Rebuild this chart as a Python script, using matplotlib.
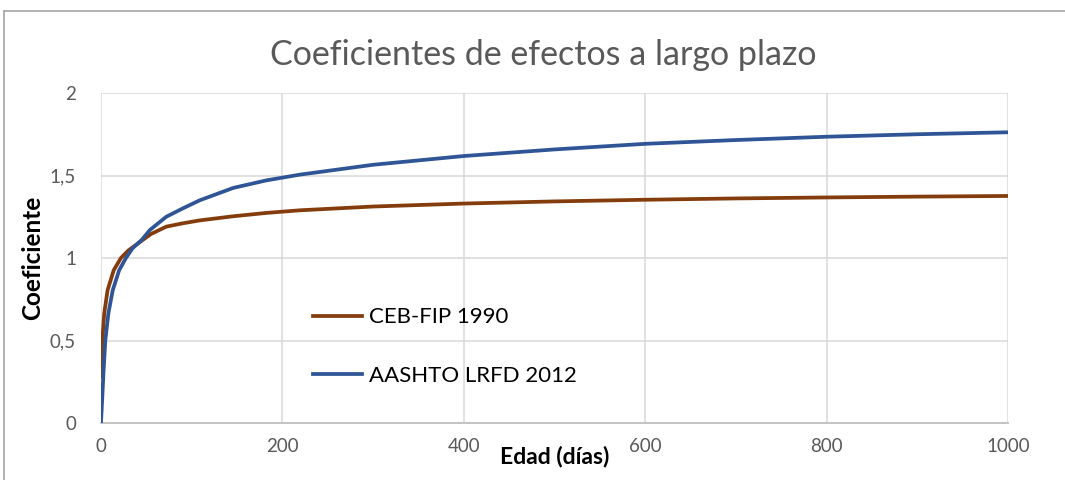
import matplotlib
matplotlib.use("Agg")
import matplotlib.pyplot as plt
from matplotlib.lines import Line2D

plt.rcParams['font.family'] = ['Lato', 'DejaVu Sans']

# CEB-FIP 1990 readings
days_ceb = [0, 1.5, 3.6, 7.3, 14, 22, 30, 40, 55, 72, 90, 109, 146, 182,
            219, 300, 400, 500, 600, 700, 800, 900, 1000]
coef_ceb = [0.28, 0.50, 0.665, 0.805, 0.925, 1.0, 1.045, 1.085, 1.145, 1.19,
            1.21, 1.228, 1.253, 1.273, 1.289, 1.312, 1.33, 1.343, 1.353,
            1.361, 1.367, 1.372, 1.376]

# AASHTO LRFD 2012 readings
days_aashto = [0, 1.5, 2.9, 4.8, 8.2, 13, 20, 27.5, 35, 45, 54, 72, 90, 109,
               146, 182, 219, 300, 400, 500, 600, 700, 800, 900, 1000]
coef_aashto = [0, 0.16, 0.32, 0.5, 0.665, 0.805, 0.925, 1.0, 1.06, 1.11,
               1.17, 1.25, 1.30, 1.35, 1.425, 1.47, 1.505, 1.565, 1.618,
               1.658, 1.692, 1.715, 1.735, 1.75, 1.762]

x_ticks = [0, 200, 400, 600, 800, 1000]
y_ticks = [0, 0.5, 1, 1.5, 2]
y_labels = ["0", "0,5", "1", "1,5", "2"]

TXT = "#595959"
GRID = "#D9D9D9"

fig = plt.figure(figsize=(10.65, 4.8), dpi=100)
ax = fig.add_axes([0.0948, 0.11875, 0.8517, 0.6875])

ax.plot(days_ceb, coef_ceb, color="#843C0C", lw=2.7, label="CEB-FIP 1990",
        solid_joinstyle="round", zorder=3)
ax.plot(days_aashto, coef_aashto, color="#2F5597", lw=2.7,
        label="AASHTO LRFD 2012", solid_joinstyle="round", zorder=3)

ax.set_xlim(0, 1000)
ax.set_ylim(0, 2)
ax.set_xticks(x_ticks)
ax.set_yticks(y_ticks)
ax.set_yticklabels(y_labels)
ax.grid(True, color=GRID, lw=1.1, zorder=0)
ax.set_axisbelow(True)
for s in ["top", "right", "left"]:
    ax.spines[s].set_visible(False)
ax.spines["bottom"].set_color("#BFBFBF")
ax.spines["bottom"].set_linewidth(1.3)
ax.tick_params(length=0, labelsize=13.5, colors=TXT)
ax.tick_params(axis="x", pad=11)
ax.tick_params(axis="y", pad=18)

ax.set_xlabel("Edad (días)", fontsize=16.5, fontweight="bold", color="black",
              labelpad=-7)
ax.set_ylabel("Coeficiente", fontsize=17.5, fontweight="bold", color="black",
              labelpad=4)

fig.text(0.51, 0.885, "Coeficientes de efectos a largo plazo", ha="center",
         va="center", fontsize=24.5, color=TXT)

leg = ax.legend(loc="upper left", bbox_to_anchor=(0.224, 0.377), frameon=False,
                fontsize=16, handlelength=2.2, handletextpad=0.3,
                labelspacing=1.72, borderaxespad=0)

# outer chart border (cropped at right and bottom)
fig.add_artist(Line2D([0.004, 0.004], [0, 0.977], color="#A6A6A6", lw=1.2,
                      transform=fig.transFigure))
fig.add_artist(Line2D([0.004, 1], [0.977, 0.977], color="#A6A6A6", lw=1.2,
                      transform=fig.transFigure))

fig.savefig("out.png", dpi=100)
